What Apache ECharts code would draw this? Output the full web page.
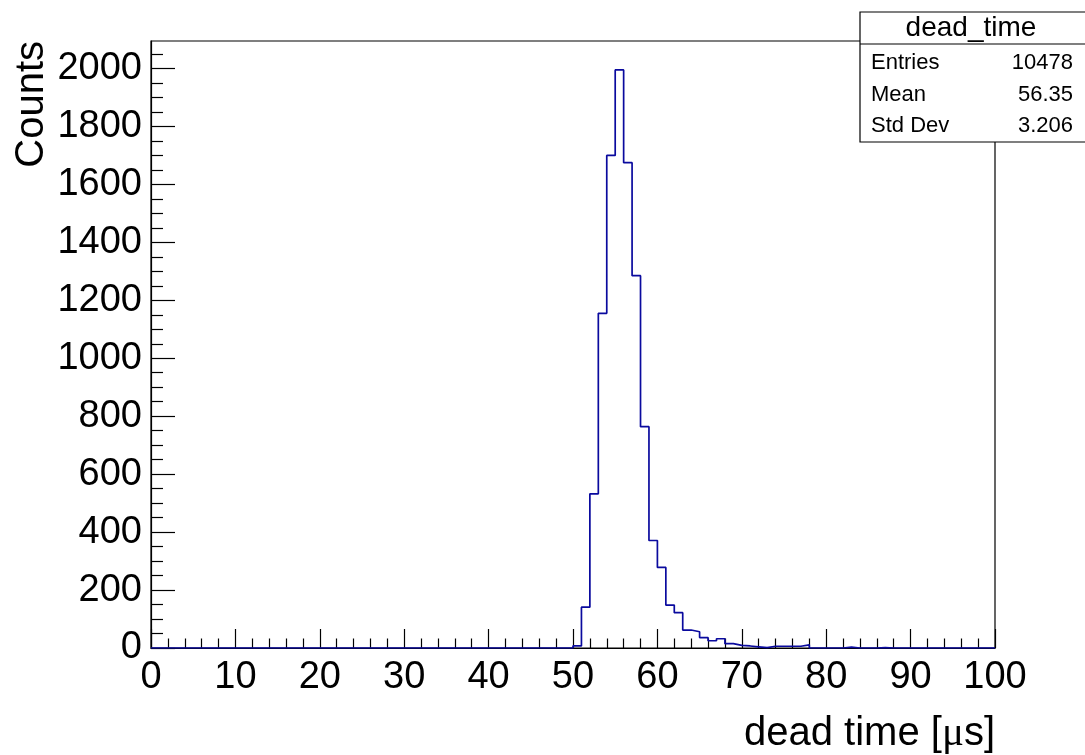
<!DOCTYPE html>
<html>
<head>
<meta charset="utf-8">
<script src="https://cdn.jsdelivr.net/npm/echarts@6/dist/echarts.min.js"></script>
<style>
html,body{margin:0;padding:0;background:#fff;}
#chart{width:1085px;height:755px;}
</style>
</head>
<body>
<div id="chart"></div>
<script>
// Histogram "dead_time": 100 bins of width 1 us from 0 to 100
const binStart = 0;
const binWidth = 1;
const counts = [
  0,0,0,0,0,0,0,0,0,0,
  0,0,0,0,0,0,0,0,0,0,
  0,0,0,0,0,0,0,0,0,0,
  0,0,0,0,0,0,0,0,0,0,
  0,0,0,0,0,0,0,0,0,0,
  7,141,532,1155,1700,1995,1675,1285,764,371,
  278,148,122,62,56,36,25,32,15,9,
  7,4,1,6,6,6,6,11,0,0,
  0,0,3,0,0,0,1,0,0,0,
  0,0,0,0,0,0,0,0,0,0
];
const xTicks = [0,10,20,30,40,50,60,70,80,90,100];
const yTicks = [0,200,400,600,800,1000,1200,1400,1600,1800,2000];
const statsTitle = 'dead_time';
const statsLabels = ['Entries','Mean','Std Dev'];
const statsValues = ['10478','56.35','3.206'];

const histData = counts.map((c,i)=>[binStart + i*binWidth, c]);
histData.push([binStart + counts.length*binWidth, counts[counts.length-1]]);

const FONT = '"Liberation Sans", Arial, Helvetica, sans-serif';
const chart = echarts.init(document.getElementById('chart'), null, {renderer:'canvas'});

const statsGraphics = [
  {type:'rect', shape:{x:860, y:12, width:226, height:130}, style:{fill:'#fff', stroke:'#000', lineWidth:1.2}, z:100},
  {type:'line', shape:{x1:860, y1:44, x2:1086, y2:44}, style:{stroke:'#000', lineWidth:1.2}, z:101},
  {type:'text', x:971, y:28, style:{text:statsTitle, font:'28px '+FONT, fill:'#000', textAlign:'center', textVerticalAlign:'middle'}, z:101}
];
statsLabels.forEach((lab,i)=>{
  const y = 63 + i*31.5;
  statsGraphics.push({type:'text', x:871, y:y, style:{text:lab, font:'22px '+FONT, fill:'#000', textAlign:'left', textVerticalAlign:'middle'}, z:101});
  statsGraphics.push({type:'text', x:1073, y:y, style:{text:statsValues[i], font:'22px '+FONT, fill:'#000', textAlign:'right', textVerticalAlign:'middle'}, z:101});
});

const option = {
  animation:false,
  backgroundColor:'#fff',
  grid:{left:151, right:90, top:41, bottom:107, show:true, borderColor:'#000', borderWidth:1.2, backgroundColor:'transparent'},
  xAxis:{
    type:'value', min:xTicks[0], max:xTicks[xTicks.length-1], interval:10,
    axisLine:{show:true, onZero:false, lineStyle:{color:'#000', width:1.2}},
    axisTick:{show:true, inside:true, length:19, lineStyle:{color:'#000', width:1.2}},
    minorTick:{show:true, splitNumber:5, length:9.5, lineStyle:{color:'#000', width:1.2}},
    splitLine:{show:false},
    axisLabel:{show:true, margin:11, color:'#000', fontSize:38, fontFamily:FONT,
      formatter:(v)=> xTicks.includes(v) ? String(v) : ''}
  },
  yAxis:{
    type:'value', min:0, max:2095, interval:200,
    axisLine:{show:true, onZero:false, lineStyle:{color:'#000', width:1.2}},
    axisTick:{show:true, inside:true, length:24, customValues:yTicks, lineStyle:{color:'#000', width:1.2}},
    minorTick:{show:true, splitNumber:4, length:12, lineStyle:{color:'#000', width:1.2}},
    splitLine:{show:false},
    axisLabel:{show:true, margin:9, color:'#000', fontSize:38, fontFamily:FONT, showMaxLabel:false,
      formatter:(v)=> yTicks.includes(v) ? String(v) : ''}
  },
  series:[{
    type:'line', step:'end', data:histData, symbol:'none',
    lineStyle:{color:'#0a0a9e', width:1.7}, z:3, clip:true
  }],
  graphic:[
    {type:'text', x:32, y:41, rotation:Math.PI/2,
      style:{text:'Counts', font:'40px '+FONT, fill:'#000', textAlign:'right', textVerticalAlign:'middle'}, z:100},
    {type:'text', x:995, y:734,
      style:{text:'{a|dead time [}{b|μ}{a|s]}', textAlign:'right', textVerticalAlign:'middle',
        rich:{a:{font:'40px '+FONT, fill:'#000'}, b:{font:'41px "Liberation Serif", "DejaVu Serif", serif', fill:'#000'}}}, z:100}
  ].concat(statsGraphics)
};
chart.setOption(option);
</script>
</body>
</html>
